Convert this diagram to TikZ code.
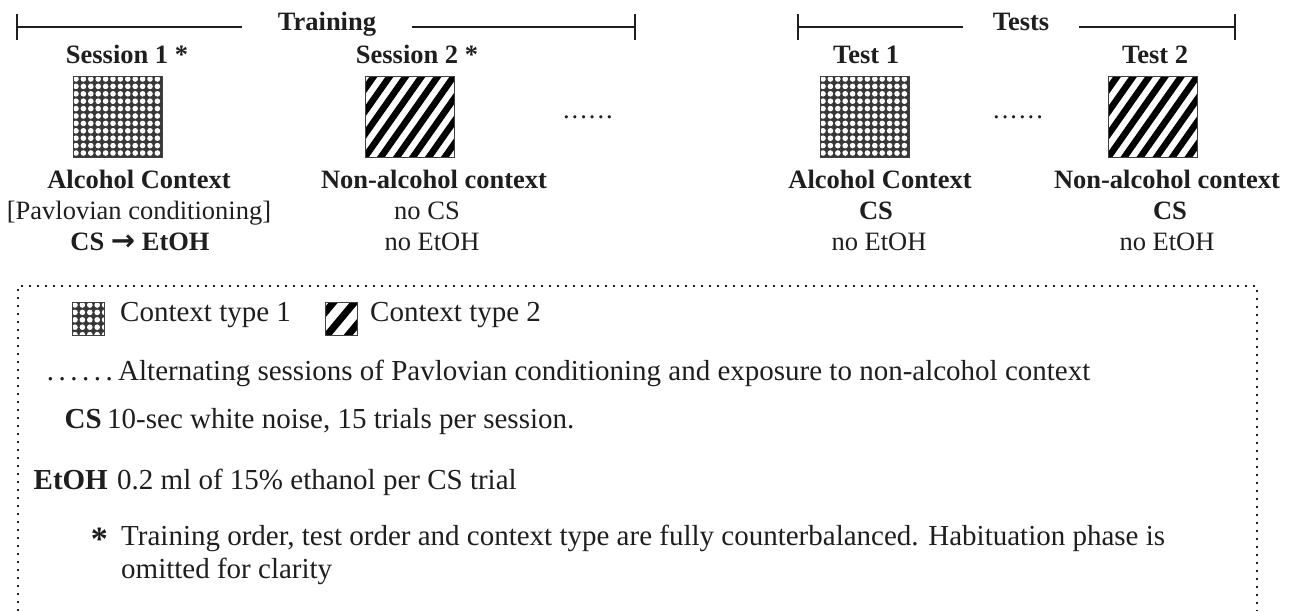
\documentclass[tikz,border=0pt]{standalone}
\usepackage{fontspec}
\setmainfont{Liberation Serif}
\newfontfamily\arrowfont{DejaVu Sans}
\usetikzlibrary{calc}
\definecolor{ink}{HTML}{1E1E1E}
\newcommand{\sixdots}[1]{.\kern#1.\kern#1.\kern#1.\kern#1.\kern#1.}
\tikzset{
  toptext/.style={font=\fontsize{26.5}{30}\selectfont, text=ink, inner sep=0pt, anchor=base},
  toph/.style={toptext, font=\fontsize{26.5}{30}\selectfont\bfseries},
  legtext/.style={font=\fontsize{29}{30}\selectfont, text=ink, inner sep=0pt, anchor=base west},
  legb/.style={legtext, font=\fontsize{29}{30}\selectfont\bfseries, anchor=base east},
  bracket/.style={line width=1.5pt, draw=ink},
  sqbox/.style={draw=black!75, line width=0.8pt, inner sep=0pt, outer sep=0pt, minimum width=89pt, minimum height=81pt},
  smallbox/.style={sqbox, minimum width=32pt, minimum height=33pt},
  checker/.style={path picture={
    \fill[black!78] (path picture bounding box.south west) rectangle (path picture bounding box.north east);
    \foreach \i in {0,...,12}{\foreach \j in {0,...,11}{
      \fill[white] ([shift={(\i*7.4pt+3pt,-\j*7.4pt-3pt)}]path picture bounding box.north west) circle[radius=2.8pt];
    }}
  }},
  stripes/.style={path picture={
    \foreach \k in {-7,...,7}{
      \draw[black, line width=6.5pt] ([shift={(\k*16pt-57pt,-81pt)}]path picture bounding box.center) -- ([shift={(\k*16pt+57pt,81pt)}]path picture bounding box.center);
    }
  }},
  smallstripes/.style={path picture={
    \foreach \k in {-2,...,2}{
      \draw[black, line width=7pt] ([shift={(\k*21pt-20pt,-24pt)}]path picture bounding box.center) -- ([shift={(\k*21pt+20pt,24pt)}]path picture bounding box.center);
    }
  }},
  legendframe/.style={draw=ink, line width=1.8pt, dash pattern=on 1.8pt off 6.2pt},
}
\begin{document}
\begin{tikzpicture}[x=1pt,y=-1pt]
\useasboundingbox (0,0) rectangle (1300,611);

% Training bracket
\coordinate (trL) at (17,27);
\coordinate (trR) at (635,27);
\node[toph, inner xsep=36pt] (train) at (327,30) {Training};
\draw[bracket] (trL) -- (trL -| train.west);
\draw[bracket] (train.east |- trR) -- (trR);
\draw[bracket] ([yshift=13pt]trL) -- ([yshift=-13pt]trL);
\draw[bracket] ([yshift=13pt]trR) -- ([yshift=-13pt]trR);

% Tests bracket
\coordinate (teL) at (798,27);
\coordinate (teR) at (1235,27);
\node[toph, inner xsep=30pt] (tests) at (1021,30) {Tests};
\draw[bracket] (teL) -- (teL -| tests.west);
\draw[bracket] (tests.east |- teR) -- (teR);
\draw[bracket] ([yshift=13pt]teL) -- ([yshift=-13pt]teL);
\draw[bracket] ([yshift=13pt]teR) -- ([yshift=-13pt]teR);

% Titles
\node[toph] (ses1) at (127,63) {Session 1 *};
\node[toph] (ses2) at (417,63) {Session 2 *};
\node[toph] (test1) at (866,63) {Test 1};
\node[toph] (test2) at (1155,63) {Test 2};

% Squares
\node[sqbox, checker] (sq1) at (117.5,116.5) {};
\node[sqbox, stripes] (sq2) at (409.5,116.5) {};
\node[sqbox, checker] (sq3) at (864.5,116.5) {};
\node[sqbox, stripes] (sq4) at (1153,116.5) {};

% Dots
\node[toptext] (dots1) at (588,118) {\sixdots{2pt}};
\node[toptext] (dots2) at (1018,118) {\sixdots{2pt}};

% Column texts
\node[toph] (c1a) at (139,188) {Alcohol Context};
\node[toptext] (c1b) at (139,219) {[Pavlovian conditioning]};
\node[toph] (c1c) at (140,250) {CS {\arrowfont\bfseries\fontsize{29}{30}\selectfont →} EtOH};
\node[toph] (c2a) at (434,188) {Non-alcohol context};
\node[toptext] (c2b) at (427,219) {no CS};
\node[toptext] (c2c) at (432,250) {no EtOH};
\node[toph] (c3a) at (880,188) {Alcohol Context};
\node[toph] (c3b) at (876,219) {CS};
\node[toptext] (c3c) at (879,250) {no EtOH};
\node[toph] (c4a) at (1167,188) {Non-alcohol context};
\node[toph] (c4b) at (1170,219) {CS};
\node[toptext] (c4c) at (1167,250) {no EtOH};

% Legend frame
\coordinate (fbl) at (18,611);
\coordinate (ftl) at (18,286);
\coordinate (ftr) at (1257,286);
\coordinate (fbr) at (1257,611);
\draw[legendframe] (fbl) -- (ftl) -- (ftr) -- (fbr);

% Legend
\node[smallbox, checker] (lsq1) at (88,318.5) {};
\node[legtext] (lt1) at (120,321) {Context type 1};
\node[smallbox, smallstripes] (lsq2) at (341,318.5) {};
\node[legtext] (lt2) at (370,321) {Context type 2};
\node[legtext, anchor=base east] (ldots) at (113,380) {\sixdots{4.5pt}};
\node[legtext] (ltdots) at (118,380) {Alternating sessions of Pavlovian conditioning and exposure to non-alcohol context};
\node[legb] (lcs) at (102,428) {CS};
\node[legtext] (ltcs) at (107,428) {10-sec white noise, 15 trials per session.};
\node[legb] (letoh) at (108,489) {EtOH};
\node[legtext] (ltetoh) at (117,489) {0.2 ml of 15\% ethanol per CS trial};
\node[legb] (last) at (108,545) {\fontsize{34}{34}\selectfont\raisebox{-0.35ex}{*}};
\node[legtext, align=left, font=\fontsize{29}{33}\selectfont] (ltast) at (121,578) {Training order, test order and context type are fully counterbalanced. Habituation phase is\\omitted for clarity};
\end{tikzpicture}
\end{document}
